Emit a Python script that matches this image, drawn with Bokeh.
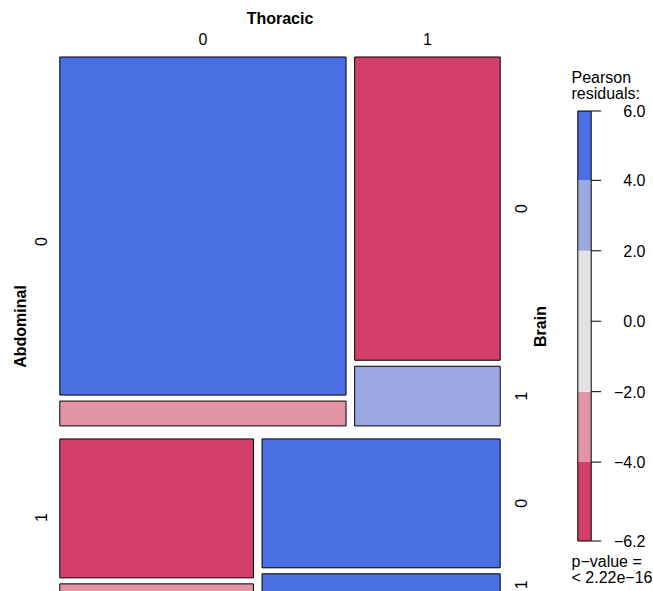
import numpy as np
from bokeh.plotting import figure
from bokeh.models import Range1d
from bokeh.core.properties import value
from bokeh.embed import file_html
from bokeh.resources import INLINE

# ---- data: 2x2x2 table of injury indicators -------------------------------
abdominal_levels = ["0", "1"]
thoracic_levels = ["0", "1"]
brain_levels = ["0", "1"]

# counts by Brain level (0, 1) for each Abdominal x Thoracic combination
counts_abd0_thor0 = [1482, 109]
counts_abd0_thor1 = [676, 133]
counts_abd1_thor0 = [412, 36]
counts_abd1_thor1 = [470, 81]

# residual shading (HCL diverging palette, cut at +-2 and +-4)
shade_breaks = [-4.0, -2.0, 2.0, 4.0]
shade_colors = ["#D33F6A", "#E495A5", "#E2E2E2", "#9DA8E2", "#4A6FE3"]
legend_ticks = [-4.0, -2.0, 0.0, 2.0, 4.0]
p_value_text = "< 2.22e\u221216"

# ---- Pearson residuals under mutual independence --------------------------
n = np.array([[counts_abd0_thor0, counts_abd0_thor1],
              [counts_abd1_thor0, counts_abd1_thor1]], dtype=float)
N = n.sum()
pa = n.sum(axis=(1, 2)) / N
pt = n.sum(axis=(0, 2)) / N
pb = n.sum(axis=(0, 1)) / N
expected = N * pa[:, None, None] * pt[None, :, None] * pb[None, None, :]
resid = (n - expected) / np.sqrt(expected)


def shade(r):
    return shade_colors[int(np.digitize(r, shade_breaks))]


# ---- canvas (pixel-like units, measured from the top) ---------------------
W, H = 653, 591
FONT = value("Liberation Sans")
left, right, top, bottom = 59.3, 499.7, 56.5, 595.5
gap_abd, gap_thor, gap_brain = 13.0, 8.6, 6.0


def Y(y_from_top):
    return H - np.asarray(y_from_top, dtype=float)


p = figure(width=W, height=H, x_range=Range1d(0, W), y_range=Range1d(0, H),
           output_backend="svg", toolbar_location=None, min_border=0,
           x_axis_location=None, y_axis_location=None)
p.grid.visible = False
p.outline_line_color = None
p.background_fill_color = "white"
p.border_fill_color = "white"

# ---- mosaic tiles ----------------------------------------------------------
cells_h = (bottom - top) - gap_abd - len(abdominal_levels) * gap_brain
cells_w = (right - left) - gap_thor

tiles = dict(l=[], r=[], t=[], b=[], c=[])
abd_centers, thor_centers, brain_centers = [], [], []
y0 = top
for a in range(len(abdominal_levels)):
    block_cells = pa[a] * cells_h
    abd_centers.append(y0 + (block_cells + gap_brain) / 2)
    x0 = left
    for t in range(len(thoracic_levels)):
        w = n[a, t].sum() / n[a].sum() * cells_w
        if a == 0:
            thor_centers.append(x0 + w / 2)
        yy = y0
        for b in range(len(brain_levels)):
            h = n[a, t, b] / n[a, t].sum() * block_cells
            tiles["l"].append(x0)
            tiles["r"].append(x0 + w)
            tiles["t"].append(yy)
            tiles["b"].append(yy + h)
            tiles["c"].append(shade(resid[a, t, b]))
            if t == len(thoracic_levels) - 1:
                brain_centers.append(yy + h / 2)
            yy += h + gap_brain
        x0 += w + gap_thor
    y0 += block_cells + gap_brain + gap_abd

p.quad(left=tiles["l"], right=tiles["r"], top=Y(tiles["t"]), bottom=Y(tiles["b"]),
       fill_color=tiles["c"], line_color="black", line_width=1)

# ---- labels ----------------------------------------------------------------
p.text(x=[(left + right) / 2], y=Y([18]), text=["Thoracic"], text_font=FONT,
       text_font_size="16px", text_font_style="bold",
       text_align="center", text_baseline="middle")
p.text(x=thor_centers, y=Y([38] * len(thor_centers)), text=thoracic_levels,
       text_font=FONT, text_font_size="16px",
       text_align="center", text_baseline="middle")

mid_y = (top + bottom) / 2
p.text(x=[20], y=Y([mid_y]), text=["Abdominal"], angle=np.pi / 2, text_font=FONT,
       text_font_size="16px", text_font_style="bold",
       text_align="center", text_baseline="middle")
p.text(x=[40] * len(abd_centers), y=Y(abd_centers), text=abdominal_levels,
       angle=np.pi / 2, text_font=FONT, text_font_size="16px",
       text_align="center", text_baseline="middle")

p.text(x=[540], y=Y([mid_y]), text=["Brain"], angle=np.pi / 2, text_font=FONT,
       text_font_size="16px", text_font_style="bold",
       text_align="center", text_baseline="middle")
p.text(x=[520.5] * len(brain_centers), y=Y(brain_centers),
       text=brain_levels * len(abdominal_levels), angle=np.pi / 2, text_font=FONT,
       text_font_size="16px", text_align="center", text_baseline="middle")

# ---- residual legend -------------------------------------------------------
rmin, rmax = float(resid.min()), float(resid.max())
leg_l, leg_r, leg_top, leg_bot = 577.3, 590.7, 110.5, 540.5


def ly(r):
    return leg_top + (rmax - np.asarray(r, dtype=float)) / (rmax - rmin) * (leg_bot - leg_top)


edges = [rmin] + shade_breaks + [rmax]
p.quad(left=[leg_l] * 5, right=[leg_r] * 5,
       top=Y(ly(edges[1:])), bottom=Y(ly(edges[:-1])),
       fill_color=shade_colors, line_color=None)
p.quad(left=[leg_l], right=[leg_r], top=Y(ly([rmax])), bottom=Y(ly([rmin])),
       fill_color=None, line_color="black", line_width=1)

tick_vals = [rmin] + legend_ticks + [rmax]
tick_y = Y(ly(tick_vals))
p.segment(x0=[leg_r] * len(tick_vals), x1=[leg_r + 10] * len(tick_vals),
          y0=tick_y, y1=tick_y, line_color="black", line_width=1)
tick_text = [("%.1f" % v).replace("-", "\u2212") for v in tick_vals]
p.text(x=[645] * len(tick_vals), y=tick_y, text=tick_text, text_font=FONT,
       text_font_size="16px", text_align="right", text_baseline="middle")

p.text(x=[571, 571], y=Y([77, 93]), text=["Pearson", "residuals:"], text_font=FONT,
       text_font_size="16px", text_align="left", text_baseline="middle")
p.text(x=[571, 571], y=Y([561, 577]), text=["p\u2212value =", p_value_text],
       text_font=FONT, text_font_size="16px", text_align="left",
       text_baseline="middle")

open("out.html", "w").write(file_html(p, INLINE))
